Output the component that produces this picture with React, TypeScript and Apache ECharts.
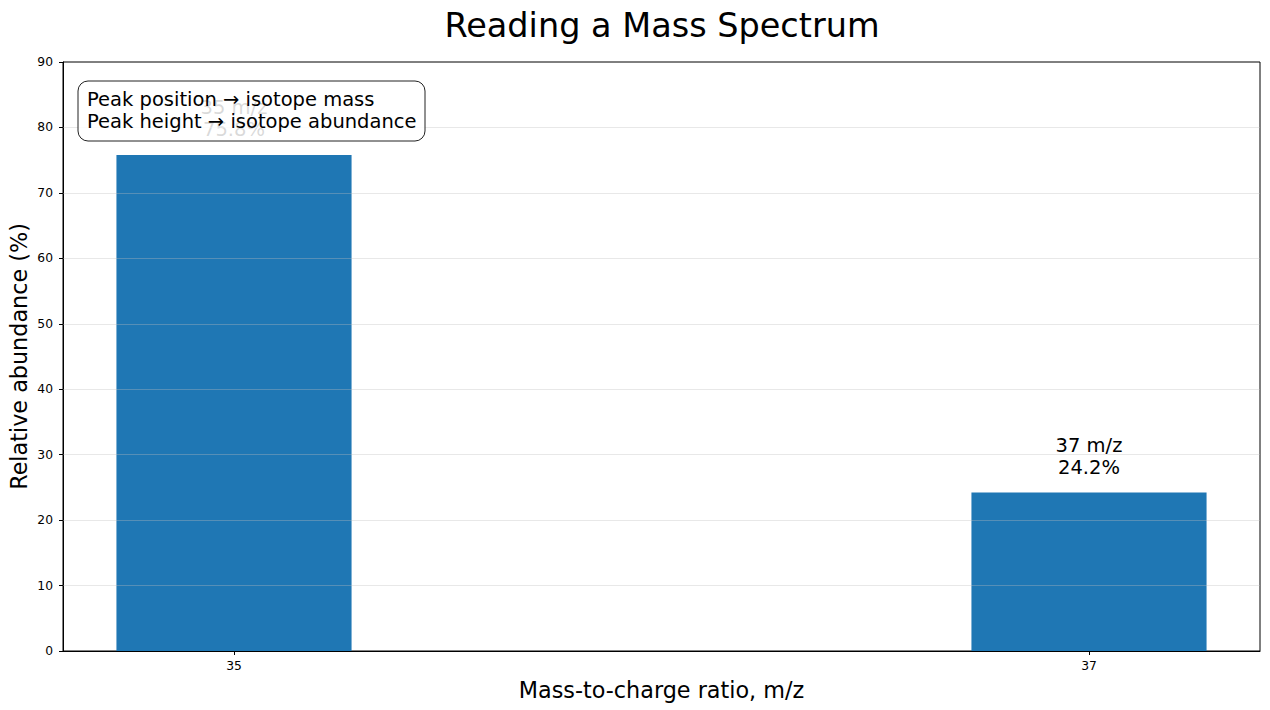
import { useEffect, useRef } from 'react';
import * as echarts from 'echarts';

// Chlorine isotope peaks
const masses = [35, 37];
const abundances = [75.8, 24.2];
const peakNames = ['35 m/z', '37 m/z'];
const xTicks = [35, 37];
const gridValues = [10, 20, 30, 40, 50, 60, 70, 80];
const noteLines = ['Peak position → isotope mass', 'Peak height → isotope abundance'];

const BAR_WIDTH = 0.55;
const FONT = 'DejaVu Sans';

export default function App() {
  const chartRef = useRef<HTMLDivElement>(null);

  useEffect(() => {
    if (!chartRef.current) return;
    document.body.style.margin = '0';
    const chart = echarts.init(chartRef.current, undefined, { renderer: 'svg' });

    const data = masses.map((m, i) => [m, abundances[i], i]);

    const option: any = {
      animation: false,
      textStyle: { fontFamily: FONT },
      title: {
        text: 'Reading a Mass Spectrum',
        left: 657,
        top: 3,
        textAlign: 'center',
        textStyle: { fontFamily: FONT, fontSize: 33.5, fontWeight: 'normal', color: '#000' },
      },
      grid: {
        left: 63,
        right: 10,
        top: 62,
        bottom: 59,
        containLabel: false,
        outerBoundsMode: 'none',
        show: true,
        borderColor: '#000',
        borderWidth: 1,
      },
      xAxis: {
        type: 'value',
        min: 34.6,
        max: 37.4,
        name: 'Mass-to-charge ratio, m/z',
        nameLocation: 'middle',
        nameGap: 28,
        nameTextStyle: { fontFamily: FONT, fontSize: 22.3, color: '#000' },
        axisLine: { show: true, lineStyle: { color: '#000' } },
        axisTick: { show: true, length: 4, customValues: xTicks, lineStyle: { color: '#000' } },
        axisLabel: {
          customValues: xTicks,
          fontFamily: FONT,
          fontSize: 12.3,
          color: '#000',
          margin: 9,
        },
        splitLine: { show: false },
      },
      yAxis: {
        type: 'value',
        min: 0,
        max: 90,
        interval: 10,
        name: 'Relative abundance (%)',
        nameLocation: 'middle',
        nameGap: 33,
        nameMoveOverlap: false,
        nameRotate: 90,
        nameTextStyle: { fontFamily: FONT, fontSize: 22.3, color: '#000' },
        axisLine: { show: true, lineStyle: { color: '#000' } },
        axisTick: { show: true, length: 4, lineStyle: { color: '#000' } },
        axisLabel: { fontFamily: FONT, fontSize: 12.3, color: '#000', margin: 10 },
        splitLine: { show: false },
      },
      series: [
        {
          type: 'custom',
          z: 2,
          data,
          renderItem: (params: any, api: any) => {
            const x = api.value(0);
            const y = api.value(1);
            const idx = api.value(2);
            const tl = api.coord([x - BAR_WIDTH / 2, y]);
            const br = api.coord([x + BAR_WIDTH / 2, 0]);
            const top = api.coord([x, y]);
            return {
              type: 'group',
              children: [
                {
                  type: 'rect',
                  shape: { x: tl[0], y: tl[1], width: br[0] - tl[0], height: br[1] - tl[1] },
                  style: { fill: '#1f77b4' },
                },
                {
                  type: 'text',
                  x: top[0],
                  y: top[1] - 14,
                  style: {
                    text: `${peakNames[idx]}\n${abundances[idx].toFixed(1)}%`,
                    fontFamily: FONT,
                    fontSize: 19.5,
                    lineHeight: 22,
                    fill: '#000',
                    align: 'center',
                    verticalAlign: 'bottom',
                  },
                },
              ],
            };
          },
        },
        {
          // horizontal grid drawn above the bars
          type: 'line',
          data: [],
          z: 5,
          markLine: {
            silent: true,
            symbol: 'none',
            z: 5,
            label: { show: false },
            lineStyle: { type: 'solid', color: 'rgba(190,190,190,0.35)', width: 1 },
            data: gridValues.map((v) => ({ yAxis: v })),
          },
        },
      ],
      graphic: [
        {
          type: 'rect',
          z: 100,
          zlevel: 1,
          x: 78,
          y: 81,
          shape: { width: 347, height: 60, r: 10 },
          style: { fill: 'rgba(255,255,255,0.85)', stroke: '#222', lineWidth: 1 },
        },
        {
          type: 'text',
          z: 101,
          zlevel: 1,
          x: 87,
          y: 88,
          style: {
            text: noteLines.join('\n'),
            fontFamily: FONT,
            fontSize: 19.5,
            lineHeight: 22,
            fill: '#000',
          },
        },
      ],
    };

    chart.setOption(option);
    return () => {
      chart.dispose();
    };
  }, []);

  return <div ref={chartRef} style={{ width: 1270, height: 710 }} />;
}
